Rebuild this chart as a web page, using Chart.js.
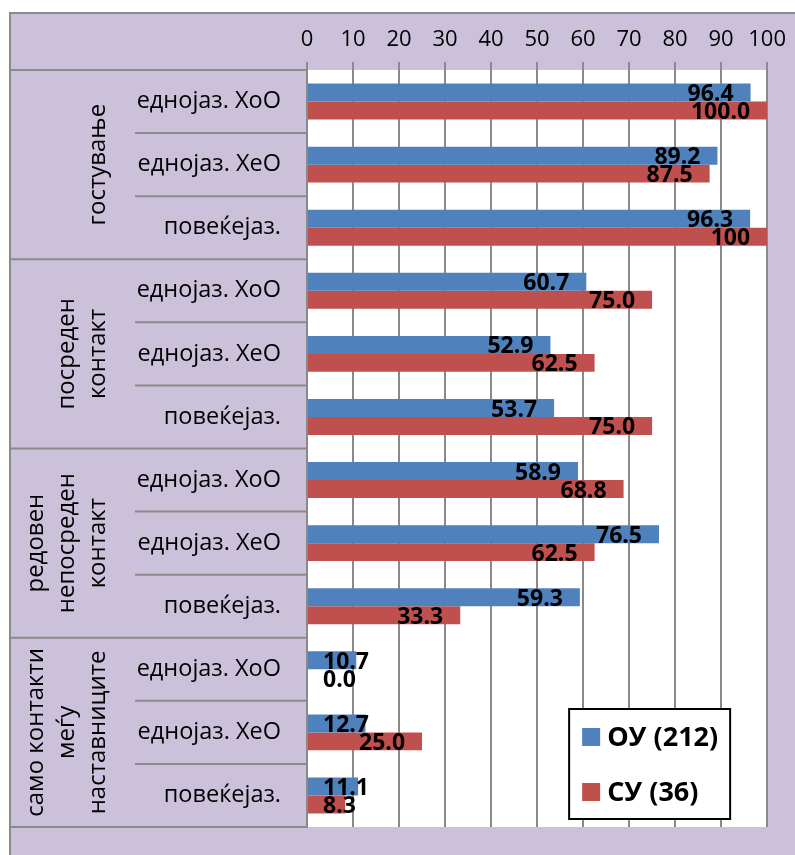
<!DOCTYPE html>
<html>
<head>
<meta charset="utf-8">
<script src="https://cdn.jsdelivr.net/npm/chart.js@4/dist/chart.umd.min.js"></script>
<style>
  html, body { margin: 0; padding: 0; background: #fff; }
  #wrap { width: 795px; height: 855px; }
</style>
</head>
<body>
<div id="wrap"><canvas id="c" width="795" height="855"></canvas></div>
<script>
// Contact types (outer groups), each shown as one or more stacked text lines
const groups = [
  ['гостување'],
  ['посреден', 'контакт'],
  ['редовен', 'непосреден', 'контакт'],
  ['само контакти', 'меѓу', 'наставниците']
];
// Sub-categories repeated inside every group
const subCategories = ['еднојаз. ХоО', 'еднојаз. ХеО', 'повеќејаз.'];
// Series names
const seriesNames = ['ОУ (212)', 'СУ (36)'];
// Percentages as printed next to each bar
const ouValues = ['96.4', '89.2', '96.3', '60.7', '52.9', '53.7', '58.9', '76.5', '59.3', '10.7', '12.7', '11.1'];
const suValues = ['100.0', '87.5', '100', '75.0', '62.5', '75.0', '68.8', '62.5', '33.3', '0.0', '25.0', '8.3'];
// Value axis ticks
const xTicks = [0, 10, 20, 30, 40, 50, 60, 70, 80, 90, 100];

const FONT = "'Open Sans', 'Noto Sans', 'DejaVu Sans', sans-serif";
const LAVENDER = '#ccc1da';
const LINE = '#8a8a8a';
const COLORS = ['#4f81bd', '#c0504d'];

const categoryLabels = [];
groups.forEach(() => subCategories.forEach(s => categoryLabels.push(s)));
const seriesText = [ouValues, suValues];

// Background: lavender frame with a white plotting area
const framePlugin = {
  id: 'frame',
  beforeDraw(chart) {
    const { ctx, chartArea: a, width, height } = chart;
    ctx.save();
    ctx.fillStyle = '#fff';
    ctx.fillRect(0, 0, width, height);
    ctx.fillStyle = LAVENDER;
    ctx.fillRect(10, 13, width - 10, height - 13);
    ctx.strokeStyle = LINE;
    ctx.lineWidth = 2;
    ctx.beginPath();
    ctx.moveTo(10, height);
    ctx.lineTo(10, 13);
    ctx.lineTo(width, 13);
    ctx.stroke();
    ctx.fillStyle = '#fff';
    ctx.fillRect(a.left, a.top, a.right - a.left, a.bottom - a.top);
    ctx.restore();
  }
};

// Separator lines and rotated group titles in the category area
const groupAxisPlugin = {
  id: 'groupAxis',
  afterDraw(chart) {
    const { ctx, chartArea: a } = chart;
    const y = chart.scales.y;
    const per = subCategories.length;
    const half = (y.getPixelForValue(1) - y.getPixelForValue(0)) / 2;
    ctx.save();
    ctx.strokeStyle = LINE;
    ctx.lineWidth = 2;
    const hline = (x0, yy) => { ctx.beginPath(); ctx.moveTo(x0, yy); ctx.lineTo(a.left, yy); ctx.stroke(); };
    hline(10, a.top);
    for (let i = 0; i < categoryLabels.length; i++) {
      const yb = y.getPixelForValue(i) + half;
      if ((i + 1) % per === 0) hline(10, yb);
      else hline(135, yb);
    }
    ctx.fillStyle = '#000';
    ctx.font = '24px ' + FONT;
    ctx.textAlign = 'center';
    ctx.textBaseline = 'middle';
    groups.forEach((lines, g) => {
      const yc = (y.getPixelForValue(g * per) + y.getPixelForValue(g * per + per - 1)) / 2;
      lines.forEach((txt, k) => {
        const x = 97 - (lines.length - 1 - k) * 31;
        ctx.save();
        ctx.translate(x, yc);
        ctx.rotate(-Math.PI / 2);
        ctx.fillText(txt, 0, 1);
        ctx.restore();
      });
    });
    ctx.restore();
  }
};

// Value labels at the inner end of each bar
const valueLabelPlugin = {
  id: 'valueLabels',
  afterDatasetsDraw(chart) {
    const { ctx, chartArea: a } = chart;
    ctx.save();
    ctx.font = 'bold 23px ' + FONT;
    ctx.fillStyle = '#000';
    ctx.textAlign = 'right';
    ctx.textBaseline = 'middle';
    chart.data.datasets.forEach((ds, di) => {
      const meta = chart.getDatasetMeta(di);
      meta.data.forEach((bar, i) => {
        const txt = seriesText[di][i];
        const w = ctx.measureText(txt).width;
        const x = Math.max(bar.x - 17, a.left + 16 + w);
        ctx.fillText(txt, x, bar.y + 2);
      });
    });
    ctx.restore();
  }
};

// Boxed legend in the lower right of the plot
const boxLegendPlugin = {
  id: 'boxLegend',
  afterDraw(chart) {
    const { ctx, chartArea: a } = chart;
    const bx = a.right - 198, by = a.bottom - 118, bw = 161, bh = 110;
    ctx.save();
    ctx.fillStyle = '#fff';
    ctx.fillRect(bx, by, bw, bh);
    ctx.strokeStyle = '#000';
    ctx.lineWidth = 2;
    ctx.strokeRect(bx, by, bw, bh);
    ctx.font = 'bold 27px ' + FONT;
    ctx.textAlign = 'left';
    ctx.textBaseline = 'middle';
    chart.data.datasets.forEach((ds, i) => {
      const cy = by + 28 + i * 55;
      ctx.fillStyle = ds.backgroundColor;
      ctx.fillRect(bx + 13, cy - 9, 18, 18);
      ctx.fillStyle = '#000';
      ctx.fillText(ds.label, bx + 38, cy + 1);
    });
    ctx.restore();
  }
};

new Chart(document.getElementById('c'), {
  type: 'bar',
  data: {
    labels: categoryLabels,
    datasets: [
      { label: seriesNames[0], data: ouValues.map(Number), backgroundColor: COLORS[0] },
      { label: seriesNames[1], data: suValues.map(Number), backgroundColor: COLORS[1] }
    ]
  },
  options: {
    indexAxis: 'y',
    responsive: false,
    animation: false,
    devicePixelRatio: 1,
    layout: { padding: { left: 10, top: 13, right: 27, bottom: 28 } },
    datasets: { bar: { barPercentage: 1, categoryPercentage: 0.57 } },
    plugins: { legend: { display: false }, tooltip: { enabled: false } },
    scales: {
      x: {
        position: 'top',
        min: 0,
        max: 100,
        afterBuildTicks: s => { s.ticks = xTicks.map(v => ({ value: v })); },
        afterFit: s => { s.height = 57; },
        ticks: { color: '#000', font: { family: FONT, size: 22 }, padding: 9, maxRotation: 0, autoSkip: false },
        grid: { color: LINE, lineWidth: 2, tickLength: 8, drawTicks: true },
        border: { display: false }
      },
      y: {
        afterFit: s => { s.width = 297; s.paddingTop = 0; s.paddingBottom = 0; },
        ticks: { color: '#000', font: { family: FONT, size: 23.5 }, padding: 26, autoSkip: false },
        grid: { display: false, drawTicks: false },
        border: { display: true, color: LINE, width: 2 }
      }
    }
  },
  plugins: [framePlugin, groupAxisPlugin, valueLabelPlugin, boxLegendPlugin]
});
</script>
</body>
</html>
